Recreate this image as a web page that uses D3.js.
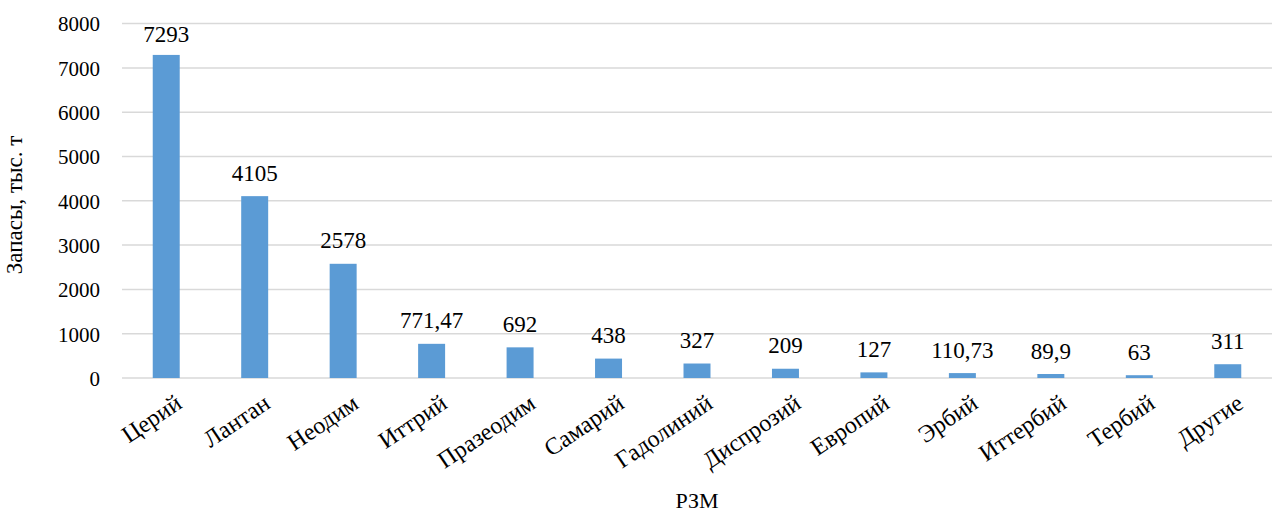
<!DOCTYPE html>
<html><head><meta charset="utf-8">
<script src="https://cdn.jsdelivr.net/npm/d3@7"></script>
<style>body{margin:0;background:#fff}svg{display:block}svg text{font-family:"Liberation Serif","Times New Roman",serif !important;fill:#000}</style>
</head><body><svg id="c" width="1277" height="523"></svg>
<script>
const categories = ["Церий","Лантан","Неодим","Иттрий","Празеодим","Самарий","Гадолиний","Диспрозий","Европий","Эрбий","Иттербий","Тербий","Другие"];
const values = [7293,4105,2578,771.47,692,438,327,209,127,110.73,89.9,63,311];
const valueLabels = ["7293","4105","2578","771,47","692","438","327","209","127","110,73","89,9","63","311"];
const yTicks = [0,1000,2000,3000,4000,5000,6000,7000,8000];
const yTitle = "Запасы, тыс. т";
const xTitle = "РЗМ";

(function(){
const FF = "Liberation Serif, Times New Roman, serif";
const svg = d3.select("#c");
const mL = 122, mR = 1272, mT = 23.6, mB = 378;
const x = d3.scaleBand().domain(categories).range([mL, mR]).padding(0);
const y = d3.scaleLinear().domain([0, 8000]).range([mB, mT]);
const bw = x.bandwidth() * 0.305;

svg.append("g").selectAll("line").data(yTicks).join("line")
  .attr("x1", mL).attr("x2", mR)
  .attr("y1", d => y(d)).attr("y2", d => y(d))
  .attr("stroke", "#d9d9d9").attr("stroke-width", 1.5);

const yAxis = d3.axisLeft(y).tickValues(yTicks).tickSize(0).tickPadding(0).tickFormat(d3.format("d"));
const ga = svg.append("g").attr("transform", `translate(100,0)`).call(yAxis);
ga.select(".domain").remove();
ga.attr("font-family", FF).attr("font-size", 21);
ga.selectAll("text").style("font-family", FF).style("font-size", "21px").attr("fill","#000").attr("dy", "0.35em");

svg.append("g").selectAll("rect").data(values).join("rect")
  .attr("x", (d,i) => x(categories[i]) + x.bandwidth()/2 - bw/2)
  .attr("width", bw)
  .attr("y", d => y(d))
  .attr("height", d => mB - y(d))
  .attr("fill", "#5b9bd5");

svg.append("g").selectAll("text").data(values).join("text")
  .attr("x", (d,i) => x(categories[i]) + x.bandwidth()/2)
  .attr("y", d => Math.max(y(d) - 15.5, 42))
  .attr("text-anchor", "middle")
  .style("font-family", FF).style("font-size", "23px")
  .text((d,i) => valueLabels[i]);

svg.append("g").selectAll("text").data(categories).join("text")
  .attr("transform", d => `translate(${x(d) + x.bandwidth()/2 + 7},${mB + 14}) rotate(-34)`)
  .attr("text-anchor", "end")
  .attr("dy", "0.75em")
  .style("font-family", FF).style("font-size", "24px")
  .text(d => d);

svg.append("text").attr("transform", "translate(22,205) rotate(-90)")
  .attr("text-anchor", "middle").style("font-family", FF).style("font-size", "23px").text(yTitle);
svg.append("text").attr("x", 697).attr("y", 508)
  .attr("text-anchor", "middle").style("font-family", FF).style("font-size", "22px").text(xTitle);
})();
</script></body></html>
